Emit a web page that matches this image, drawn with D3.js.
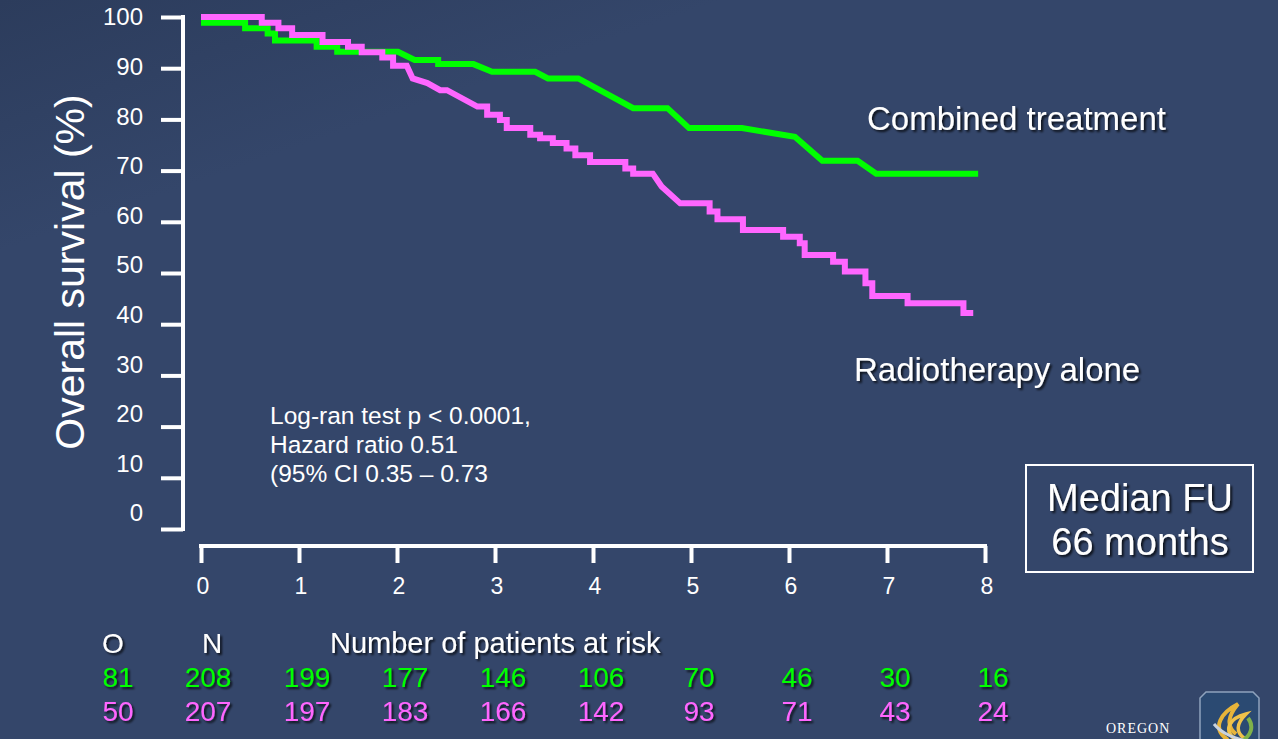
<!DOCTYPE html>
<html lang="en">
<head>
<meta charset="UTF-8">
<title>Overall survival</title>
<script src="https://cdnjs.cloudflare.com/ajax/libs/d3/7.9.0/d3.min.js"></script>
<style>
  html, body { margin: 0; padding: 0; background: #34466a; }
  svg { display: block; font-family: "Liberation Sans", Arial, sans-serif; }
</style>
</head>
<body>
<div id="chart"></div>
<script>
// survival curves as [years, percent] vertices
const combinedCurve = [
  [0, 98.9], [0.45, 98.9], [0.45, 97.8], [0.68, 97.8], [0.68, 96.8], [0.755, 96.8],
  [0.755, 95.4], [1.18, 95.4], [1.18, 94.2], [1.39, 94.2], [1.39, 93.2], [2.01, 93.2],
  [2.18, 91.6], [2.42, 91.6], [2.42, 90.8], [2.78, 90.8], [2.97, 89.3], [3.41, 89.3],
  [3.54, 88.0], [3.85, 88.0], [4.41, 82.2], [4.76, 82.2], [4.98, 78.3], [5.52, 78.3],
  [6.06, 76.6], [6.34, 71.9], [6.70, 71.9], [6.89, 69.4], [7.93, 69.4]
];
const radioCurve = [
  [0, 100], [0.62, 100], [0.62, 98.9], [0.79, 98.9], [0.79, 97.8], [0.93, 97.8],
  [0.93, 96.5], [1.24, 96.5], [1.24, 95.1], [1.50, 95.1], [1.50, 94.2], [1.64, 94.2],
  [1.64, 93.1], [1.85, 93.1], [1.85, 92.1], [1.96, 92.1], [1.96, 90.5], [2.10, 90.5],
  [2.16, 88.0], [2.31, 87.1], [2.44, 85.7], [2.51, 85.7], [2.82, 82.5], [2.92, 82.5],
  [2.92, 80.9], [3.05, 80.9], [3.05, 79.9], [3.12, 79.9], [3.12, 78.3], [3.36, 78.3],
  [3.36, 77.0], [3.46, 77.0], [3.46, 76.3], [3.59, 76.3], [3.59, 75.4], [3.73, 75.4],
  [3.73, 74.3], [3.82, 74.3], [3.82, 73.0], [3.97, 73.0], [3.97, 71.7], [4.33, 71.7],
  [4.33, 70.4], [4.41, 70.4], [4.41, 69.4], [4.61, 69.4], [4.70, 66.9], [4.89, 63.6],
  [5.19, 63.6], [5.19, 62.0], [5.27, 62.0], [5.27, 60.5], [5.53, 60.5], [5.53, 58.4],
  [5.94, 58.4], [5.94, 57.1], [6.11, 57.1], [6.11, 55.8], [6.16, 55.8], [6.16, 53.5],
  [6.45, 53.5], [6.45, 52.2], [6.57, 52.2], [6.57, 50.3], [6.78, 50.3], [6.78, 48.0],
  [6.85, 48.0], [6.85, 45.5], [7.21, 45.5], [7.21, 44.1], [7.78, 44.1], [7.78, 42.2],
  [7.88, 42.2]
];

const yTicks = [0, 10, 20, 30, 40, 50, 60, 70, 80, 90, 100];
const xTicks = [0, 1, 2, 3, 4, 5, 6, 7, 8];

const combinedEvents = 81;
const radioEvents = 50;
const combinedAtRisk = [208, 199, 177, 146, 106, 70, 46, 30, 16];
const radioAtRisk = [207, 197, 183, 166, 142, 93, 71, 43, 24];

const statsLines = ["Log-ran test p < 0.0001,", "Hazard ratio 0.51", "(95% CI 0.35 \u2013 0.73"];
const medianLines = ["Median FU", "66 months"];

const GREEN = "#00ff00";
const PINK = "#ff66ff";

const width = 1278, height = 739;

const svg = d3.select("#chart").append("svg")
  .attr("width", width)
  .attr("height", height);

const defs = svg.append("defs");
const shadow = defs.append("filter").attr("id", "shadow")
  .attr("x", "-10%").attr("y", "-20%").attr("width", "130%").attr("height", "150%");
shadow.append("feDropShadow")
  .attr("dx", 2).attr("dy", 2).attr("stdDeviation", 1)
  .attr("flood-color", "#000").attr("flood-opacity", 0.75);

const bg = defs.append("linearGradient").attr("id", "bg")
  .attr("x1", 0).attr("y1", 0).attr("x2", 0.15).attr("y2", 0.25);
bg.append("stop").attr("offset", "0%").attr("stop-color", "#2c3c5c");
bg.append("stop").attr("offset", "100%").attr("stop-color", "#34466a");

svg.append("rect").attr("width", width).attr("height", height).attr("fill", "url(#bg)");

const x = d3.scaleLinear().domain([0, 8]).range([201, 985]);
const y = d3.scaleLinear().domain([0, 100]).range([529, 17]);
// tick labels on the slide sit on a slightly tighter spacing than the ticks
const yLab = d3.scaleLinear().domain([0, 100]).range([513, 17]);

// y axis
const yAxis = svg.append("g")
  .attr("transform", "translate(183,0)")
  .call(d3.axisLeft(y).tickValues(yTicks).tickSize(22).tickSizeOuter(0).tickFormat(""));
yAxis.select(".domain").attr("stroke", "#fff").attr("stroke-width", 4)
  .attr("d", `M0,${y(0) + 2}V${y(100) - 2}`);
yAxis.selectAll(".tick line").attr("stroke", "#fff").attr("stroke-width", 4).attr("x2", -22);

svg.append("g").selectAll("text")
  .data(yTicks)
  .enter().append("text")
  .attr("x", 143)
  .attr("y", d => yLab(d))
  .attr("dy", "0.35em")
  .attr("text-anchor", "end")
  .attr("fill", "#fff")
  .attr("font-size", 24)
  .text(d => d);

svg.append("text")
  .attr("transform", "translate(84,272) rotate(-90)")
  .attr("text-anchor", "middle")
  .attr("fill", "#fff")
  .attr("font-size", 41)
  .text("Overall survival (%)");

// x axis
const xAxis = svg.append("g")
  .attr("transform", "translate(0,546)")
  .call(d3.axisBottom(x).tickValues(xTicks).tickSize(17).tickSizeOuter(0).tickFormat(""));
xAxis.select(".domain").attr("stroke", "#fff").attr("stroke-width", 4)
  .attr("d", `M${x(0) - 2},0H${x(8) + 2}`);
xAxis.selectAll(".tick line").attr("stroke", "#fff").attr("stroke-width", 4);

svg.append("g").selectAll("text")
  .data(xTicks)
  .enter().append("text")
  .attr("x", d => x(d) + 2)
  .attr("y", 586)
  .attr("dy", "0.35em")
  .attr("text-anchor", "middle")
  .attr("fill", "#fff")
  .attr("font-size", 23)
  .text(d => d);

// curves
const line = d3.line()
  .x(d => x(d[0]))
  .y(d => y(d[1]));

svg.append("path")
  .datum(combinedCurve)
  .attr("d", line)
  .attr("fill", "none")
  .attr("stroke", GREEN)
  .attr("stroke-width", 6);

svg.append("path")
  .datum(radioCurve)
  .attr("d", line)
  .attr("fill", "none")
  .attr("stroke", PINK)
  .attr("stroke-width", 6);

// curve labels
svg.append("text")
  .attr("x", 867).attr("y", 130)
  .attr("fill", "#fff").attr("font-size", 33)
  .attr("filter", "url(#shadow)")
  .text("Combined treatment");

svg.append("text")
  .attr("x", 854).attr("y", 381)
  .attr("fill", "#fff").attr("font-size", 33)
  .attr("filter", "url(#shadow)")
  .text("Radiotherapy alone");

// statistics
svg.append("g").selectAll("text")
  .data(statsLines)
  .enter().append("text")
  .attr("x", 270)
  .attr("y", (d, i) => 424 + i * 29)
  .attr("fill", "#fff")
  .attr("font-size", 24.5)
  .text(d => d);

// median follow-up box
svg.append("rect")
  .attr("x", 1026).attr("y", 465)
  .attr("width", 227).attr("height", 107)
  .attr("fill", "none")
  .attr("stroke", "#fff")
  .attr("stroke-width", 2);

svg.append("g").selectAll("text")
  .data(medianLines)
  .enter().append("text")
  .attr("x", 1140)
  .attr("y", (d, i) => 511 + i * 44)
  .attr("text-anchor", "middle")
  .attr("fill", "#fff")
  .attr("font-size", 38)
  .attr("filter", "url(#shadow)")
  .text(d => d);

// numbers at risk table
const risk = svg.append("g").attr("font-size", 28).attr("filter", "url(#shadow)");
risk.append("text").attr("x", 113).attr("y", 653).attr("text-anchor", "middle").attr("fill", "#fff").text("O");
risk.append("text").attr("x", 212).attr("y", 653).attr("text-anchor", "middle").attr("fill", "#fff").text("N");
risk.append("text").attr("x", 330).attr("y", 653).attr("fill", "#fff").attr("font-size", 29).text("Number of patients at risk");

function riskRow(events, counts, color, yPos) {
  risk.append("text")
    .attr("x", 118).attr("y", yPos)
    .attr("text-anchor", "middle")
    .attr("fill", color)
    .text(events);
  risk.append("g").selectAll("text")
    .data(counts)
    .enter().append("text")
    .attr("x", (d, i) => i === 0 ? 208 : x(i) + 8)
    .attr("y", yPos)
    .attr("text-anchor", "middle")
    .attr("fill", color)
    .text(d => d);
}
riskRow(combinedEvents, combinedAtRisk, GREEN, 687);
riskRow(radioEvents, radioAtRisk, PINK, 721);

// logo corner
const logo = svg.append("g");
logo.append("path")
  .attr("d", "M1206,692 L1253,692 L1259,698 L1259,745 L1200,745 L1200,698 Z")
  .attr("fill", "#2b4a72")
  .attr("stroke", "#8fa3bd")
  .attr("stroke-width", 1.5);
logo.append("path")
  .attr("d", "M1228,740 C1210,728 1222,712 1238,704 C1228,716 1226,726 1236,734")
  .attr("fill", "none").attr("stroke", "#e7b43a").attr("stroke-width", 4);
logo.append("path")
  .attr("d", "M1236,740 C1222,730 1230,718 1246,714 C1236,724 1236,732 1244,738")
  .attr("fill", "none").attr("stroke", "#f0c24a").attr("stroke-width", 3.5);
logo.append("path")
  .attr("d", "M1240,742 C1252,736 1254,726 1248,718")
  .attr("fill", "none").attr("stroke", "#7fb24a").attr("stroke-width", 4);
logo.append("path")
  .attr("d", "M1214,724 C1222,734 1234,738 1250,742")
  .attr("fill", "none").attr("stroke", "#c9d2de").attr("stroke-width", 3);
svg.append("text")
  .attr("x", 1106).attr("y", 733)
  .attr("fill", "#fff")
  .attr("font-family", "Liberation Serif, serif")
  .attr("font-size", 14)
  .attr("letter-spacing", 1)
  .text("OREGON");
</script>
</body>
</html>
